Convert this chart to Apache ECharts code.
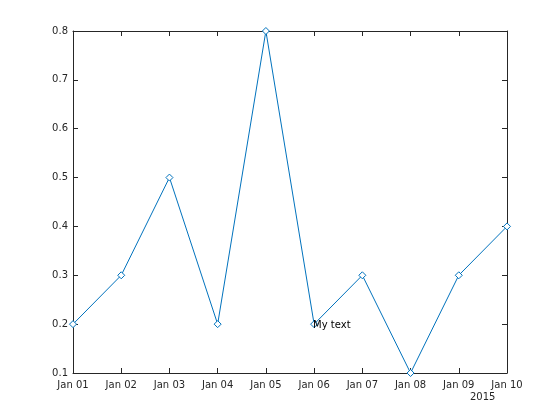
<!DOCTYPE html>
<html><head><meta charset="utf-8">
<script src="https://cdn.jsdelivr.net/npm/echarts@6/dist/echarts.min.js"></script>
<style>html,body{margin:0;padding:0;background:#fff}#c{width:560px;height:420px}</style>
</head><body><div id="c"></div>
<script>
const categories = ['Jan 01','Jan 02','Jan 03','Jan 04','Jan 05','Jan 06','Jan 07','Jan 08','Jan 09','Jan 10'];
const values = [0.2, 0.3, 0.5, 0.2, 0.8, 0.2, 0.3, 0.1, 0.3, 0.4];
const yTicks = [0.1, 0.2, 0.3, 0.4, 0.5, 0.6, 0.7, 0.8];
const annotationIndex = 5;
const annotationText = 'My text';
const yearLabel = '2015';

const ax = '#262626';
const font = 'DejaVu Sans';
const chart = echarts.init(document.getElementById('c'), null, {renderer:'canvas'});
const axisCommon = {
  axisLine:{show:true, lineStyle:{color:ax, width:1}},
  axisTick:{show:true, inside:true, length:5, lineStyle:{color:ax}},
  splitLine:{show:false}
};
chart.setOption({
  animation:false,
  backgroundColor:'#fff',
  grid:{left:73, right:53, top:31, bottom:47, containLabel:false},
  xAxis:[
    Object.assign({type:'category', data:categories, boundaryGap:false, position:'bottom',
      axisLabel:{color:ax, fontFamily:font, fontSize:10, margin:7, interval:0}}, axisCommon,
      {axisTick:{show:true, inside:true, length:5, interval:0, lineStyle:{color:ax}}}),
    Object.assign({type:'category', data:categories, boundaryGap:false, position:'top',
      axisLabel:{show:false}}, axisCommon,
      {axisTick:{show:true, inside:true, length:5, interval:0, lineStyle:{color:ax}}})
  ],
  yAxis:[
    Object.assign({type:'value', min:yTicks[0], max:yTicks[yTicks.length-1], interval:0.1, position:'left',
      axisLabel:{color:ax, fontFamily:font, fontSize:10, margin:5, formatter:v=>(+v).toFixed(1)}}, axisCommon),
    Object.assign({type:'value', min:yTicks[0], max:yTicks[yTicks.length-1], interval:0.1, position:'right',
      axisLabel:{show:false}}, axisCommon)
  ],
  graphic:[{type:'text', left:470, top:392, style:{text:yearLabel, fill:ax, font:'10px "DejaVu Sans"'}}],
  series:[{
    type:'line',
    data:values.map((v,i)=> i===annotationIndex ? {value:v, label:{show:true, formatter:annotationText, position:'right', distance:0, offset:[-5,1], color:'#000', fontFamily:font, fontSize:10}} : v),
    symbol:'diamond', symbolSize:7, showAllSymbol:true,
    lineStyle:{color:'#0072BD', width:1},
    itemStyle:{color:'#fff', borderColor:'#0072BD', borderWidth:1},
    label:{show:false},
    emphasis:{disabled:true}
  }]
});
</script></body></html>
